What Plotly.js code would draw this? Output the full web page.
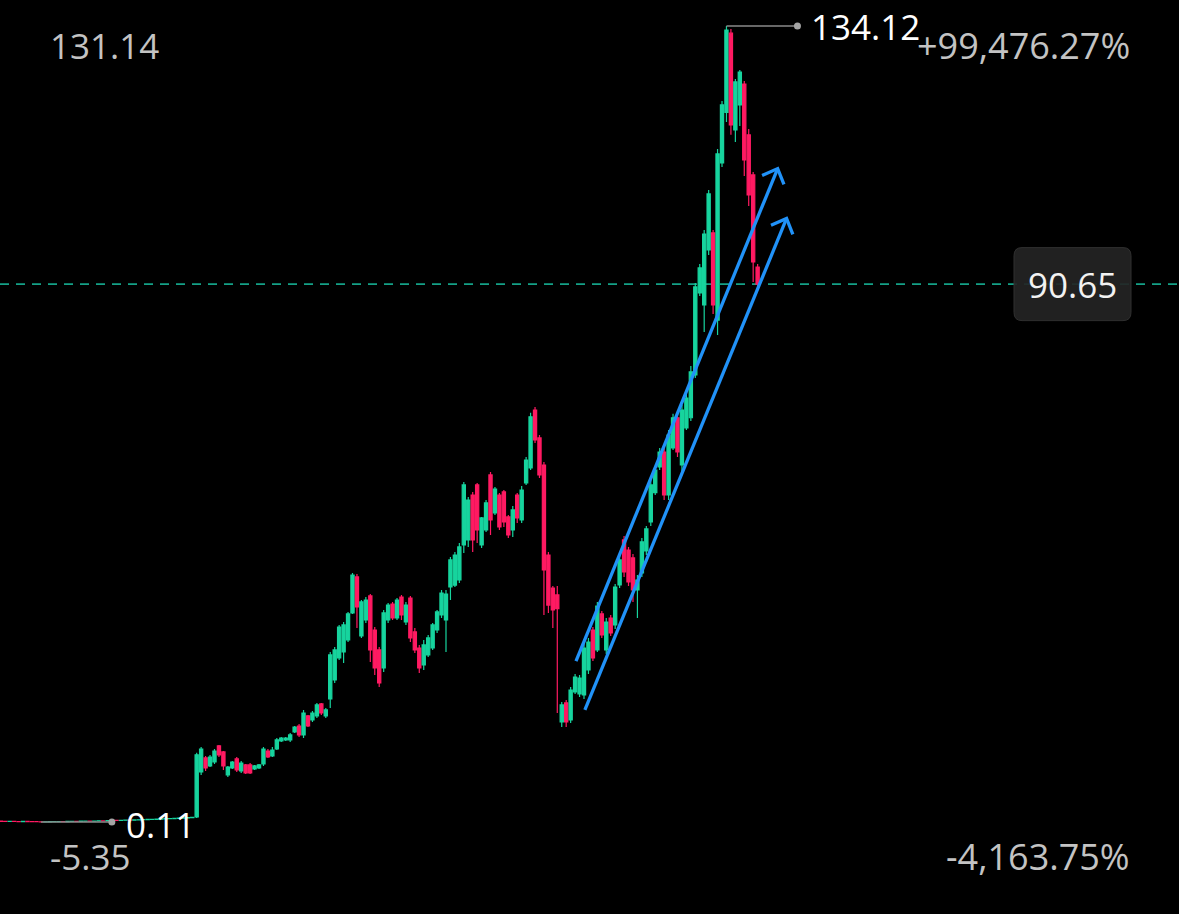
<!DOCTYPE html>
<html><head><meta charset="utf-8">
<script src="https://cdn.plot.ly/plotly-3.0.1.min.js"></script>
<style>html,body{margin:0;padding:0;background:#000;overflow:hidden}#chart{width:1179px;height:914px}</style>
</head><body><div id="chart"></div>
<script>
// ---- data ----
const opens = [0.24,0.22,0.20,0.21,0.18,0.17,0.19,0.16,0.15,0.14,0.12,0.13,0.15,0.16,0.18,0.17,0.19,0.21,0.20,0.23,0.25,0.24,0.27,0.30,0.29,0.33,0.36,0.35,0.39,0.42,0.40,0.45,0.48,0.50,0.53,0.55,0.58,0.62,0.65,0.68,0.72,0.75,0.80,0.84,
 0.94,8.52,10.88,9.53,10.20,12.90,11.89,8.01,9.19,10.71,8.69,9.70,9.70,9.02,9.19,9.87,12.05,11.21,12.39,13.74,13.91,13.91,15.25,16.26,14.75,17.95,17.27,17.95,19.97,17.95,
 20.81,24.01,27.71,28.72,30.74,35.29,41.35,31.41,34.11,38.15,32.42,29.07,26.03,34.11,36.80,34.44,37.98,33.77,37.81,32.09,29.39,26.53,28.22,29.39,32.42,34.95,34.11,
 39.66,39.98,40.84,46.73,47.58,55.15,56.84,46.73,49.26,58.52,52.12,55.15,55.66,51.45,49.26,55.15,50.94,57.17,59.70,69.46,64.75,60.20,45.05,39.49,38.32,
 16.94,20.14,17.27,21.99,21.65,21.48,25.69,32.42,29.07,35.12,29.07,34.44,33.27,40.00,47.58,45.89,44.55,39.16,42.02,45.72,50.61,55.56,59.87,62.39,55.15,63.06,68.15,60.20,66.43,68.15,
 75.35,89.16,87.14,96.40,99.26,84.60,111.04,119.56,132.90,116.60,120.81,124.34,115.76,109.03,93.53];
const highs = [0.26,0.24,0.23,0.23,0.20,0.21,0.21,0.18,0.17,0.16,0.15,0.17,0.18,0.20,0.20,0.21,0.23,0.23,0.25,0.27,0.27,0.29,0.32,0.32,0.35,0.38,0.38,0.41,0.44,0.44,0.47,0.50,0.52,0.55,0.57,0.60,0.64,0.67,0.70,0.74,0.77,0.82,0.86,0.92,
 11.75,12.73,11.21,11.38,12.39,13.06,12.05,9.53,10.37,11.04,10.37,9.87,10.03,9.70,9.87,12.73,12.39,12.73,14.24,14.41,14.41,15.08,16.26,16.60,18.96,18.11,18.79,20.14,20.14,19.29,
 28.72,29.56,33.27,33.77,35.46,42.02,41.85,37.47,37.98,38.48,32.93,29.56,35.79,36.97,37.14,37.81,38.32,37.14,38.15,32.76,29.90,30.74,31.58,33.60,35.79,39.16,39.16,
 44.71,45.56,47.07,57.34,54.81,55.65,57.17,51.45,54.31,59.02,56.50,55.49,55.99,51.78,53.30,55.49,56.67,61.55,68.99,69.97,65.25,60.71,45.56,39.83,39.83,
 20.30,20.64,22.83,25.02,24.85,30.40,31.08,32.93,37.14,35.62,34.44,34.95,40.17,44.88,48.25,46.40,45.22,41.68,47.91,49.93,57.68,60.03,63.06,63.06,66.09,68.83,68.83,70.30,72.32,76.87,
 90.84,94.04,99.76,106.50,99.76,113.40,121.48,134.12,133.60,125.19,126.70,124.85,116.77,109.53,94.04];
const lows = [0.21,0.19,0.19,0.17,0.16,0.16,0.15,0.14,0.13,0.11,0.11,0.12,0.14,0.15,0.16,0.16,0.18,0.19,0.19,0.22,0.23,0.23,0.26,0.28,0.28,0.32,0.34,0.34,0.38,0.39,0.39,0.44,0.47,0.49,0.52,0.54,0.57,0.61,0.64,0.67,0.71,0.74,0.79,0.83,
 0.77,8.01,8.69,9.36,9.87,11.04,8.86,7.68,9.02,8.52,8.35,8.18,8.18,8.86,9.02,9.53,10.88,11.04,12.22,13.57,13.74,13.57,15.08,14.41,14.24,16.09,16.94,17.61,18.11,17.61,
 19.29,23.50,27.37,26.87,30.40,35.12,32.76,31.08,33.60,27.04,24.85,22.83,25.35,33.60,34.11,34.11,34.11,33.27,30.40,28.55,25.19,25.69,27.88,29.07,31.92,34.44,28.72,
 37.47,39.66,40.34,45.39,46.40,45.56,47.07,46.23,48.92,48.42,51.78,49.26,49.76,47.91,48.08,50.44,50.44,56.84,59.36,63.91,58.01,34.95,35.29,32.76,18.45,
 16.09,16.09,16.77,21.65,21.14,20.81,25.02,27.21,28.72,31.08,28.38,31.41,32.59,39.49,41.35,39.83,37.14,34.44,41.35,45.05,49.93,55.15,59.36,54.31,54.31,62.73,61.55,58.52,66.09,67.61,
 74.85,88.66,82.58,95.56,85.62,82.09,110.37,117.95,115.80,114.58,117.27,108.86,103.81,91.01,89.66];
const closes = [0.22,0.20,0.21,0.18,0.17,0.19,0.16,0.15,0.14,0.12,0.13,0.15,0.16,0.18,0.17,0.19,0.21,0.20,0.23,0.25,0.24,0.27,0.30,0.29,0.33,0.36,0.35,0.39,0.42,0.40,0.45,0.48,0.50,0.53,0.55,0.58,0.62,0.65,0.68,0.72,0.75,0.80,0.84,0.90,
 11.40,12.39,9.19,11.04,12.05,11.38,9.53,9.36,10.20,8.86,10.03,8.35,8.35,9.53,9.70,12.39,11.04,12.22,13.91,14.24,14.24,14.75,16.09,14.75,18.45,16.26,18.45,19.80,18.45,18.96,
 28.22,29.07,32.93,33.27,35.12,41.68,36.30,37.14,37.47,29.07,26.03,23.50,35.29,36.63,34.44,37.47,34.95,36.63,31.08,29.07,26.03,29.90,31.08,33.27,35.46,38.65,38.48,
 44.21,45.05,46.40,56.84,54.31,47.58,49.26,51.28,53.81,50.94,56.16,49.76,50.61,48.42,52.63,51.28,55.99,61.04,68.32,64.41,58.52,42.52,36.62,35.79,36.00,
 19.80,16.94,22.32,24.51,24.34,29.39,30.40,27.71,36.46,31.58,33.77,31.92,39.66,44.21,42.19,40.51,39.16,40.84,47.24,49.43,56.84,59.36,62.39,55.15,65.25,68.15,62.39,69.46,71.48,75.86,
 90.17,93.37,99.09,105.83,87.14,112.56,120.81,133.40,117.44,124.68,126.36,111.55,105.66,94.38,90.65];

const scaleLevels = [131.14, -5.35];
const scaleLabels = ['131.14', '-5.35'];
const changeLabels = ['+99,476.27%', '-4,163.75%'];
const lastPriceLabel = '90.65';
// drawn channel: [candle index, price] of start and end of each arrow
const channelStarts = [[129.2, 27.2], [131.2, 18.96]];
const channelEnds = [[174.5, 110.1], [176.5, 101.7]];

// ---- layout constants ----
const W = 1179, H = 914;
const xRange = [-0.18, 264.65];
const yRange = [-15.39, 138.48];
const kx = W / (xRange[1] - xRange[0]);
const ky = H / (yRange[1] - yRange[0]);
const GREEN = '#17d49e', RED = '#ff1a62', BLUE = '#2192f8';
const FONT = 'Open Sans, Noto Sans, sans-serif';

const idx = opens.map((_, i) => i);
let hiIdx = 0, loIdx = 0;
for (let i = 1; i < highs.length; i++) { if (highs[i] > highs[hiIdx]) hiIdx = i; if (lows[i] < lows[loIdx]) loIdx = i; }
const hiVal = highs[hiIdx], loVal = lows[loIdx];
const lastPrice = closes[closes.length - 1];

const traces = [{
  type: 'candlestick', x: idx, open: opens, high: highs, low: lows, close: closes,
  increasing: {line: {color: GREEN, width: 1.2}, fillcolor: GREEN},
  decreasing: {line: {color: RED, width: 1.2}, fillcolor: RED},
  whiskerwidth: 0, hoverinfo: 'skip', showlegend: false
}];

// channel arrows
function head(s, e) {
  const dxp = (s[0] - e[0]) * kx, dyp = -(s[1] - e[1]) * ky;
  const len = Math.hypot(dxp, dyp), ux = dxp / len, uy = dyp / len;
  const L = 17, a = 44 * Math.PI / 180;
  const pts = [];
  for (const sg of [1, -1]) {
    const rx = Math.cos(a) * ux - sg * Math.sin(a) * uy;
    const ry = sg * Math.sin(a) * ux + Math.cos(a) * uy;
    pts.push([e[0] + L * rx / kx, e[1] - L * ry / ky]);
  }
  return pts;
}
for (let k = 0; k < channelStarts.length; k++) {
  const s = channelStarts[k], e = channelEnds[k];
  traces.push({type: 'scatter', mode: 'lines', x: [s[0], e[0]], y: [s[1], e[1]],
    line: {color: BLUE, width: 3.3}, hoverinfo: 'skip', showlegend: false});
  const h = head(s, e);
  traces.push({type: 'scatter', mode: 'lines', x: [h[0][0], e[0], h[1][0]], y: [h[0][1], e[1], h[1][1]],
    line: {color: BLUE, width: 3.3}, hoverinfo: 'skip', showlegend: false});
}

// price box (rounded)
const bx0 = 1014 / W, bx1 = 1131 / W, bh = 36.5 / ky, rx = 8 / W, ry = 8 / ky;
const by0 = lastPrice - bh, by1 = lastPrice + bh;
const boxPath = `M${bx0 + rx},${by1} L${bx1 - rx},${by1} Q${bx1},${by1} ${bx1},${by1 - ry} L${bx1},${by0 + ry} Q${bx1},${by0} ${bx1 - rx},${by0} L${bx0 + rx},${by0} Q${bx0},${by0} ${bx0},${by0 + ry} L${bx0},${by1 - ry} Q${bx0},${by1} ${bx0 + rx},${by1} Z`;

const shapes = [
  {type: 'line', xref: 'paper', x0: 0, x1: 1, yref: 'y', y0: lastPrice, y1: lastPrice, layer: 'below',
    line: {color: '#14a187', width: 1.6, dash: '9px,7px'}},
  {type: 'path', xref: 'paper', yref: 'y', path: boxPath, fillcolor: 'rgba(36,36,36,0.92)', line: {color: '#303030', width: 1}},
];
for (const [ix, v] of [[hiIdx, hiVal], [loIdx, loVal]]) {
  shapes.push({type: 'line', xref: 'x', yref: 'y', xsizemode: 'pixel', xanchor: ix, x0: 0, x1: 71, y0: v, y1: v,
    line: {color: '#8a8a8a', width: 1.5}});
  shapes.push({type: 'circle', xref: 'x', yref: 'y', xsizemode: 'pixel', ysizemode: 'pixel', xanchor: ix, yanchor: v,
    x0: 67.5, x1: 74.5, y0: -3.5, y1: 3.5, fillcolor: '#a4a4a4', line: {width: 0}});
}

const annotations = [];
for (let k = 0; k < scaleLevels.length; k++) {
  annotations.push({xref: 'paper', x: 48 / W, xanchor: 'left', yref: 'y', y: scaleLevels[k], yanchor: 'middle', yshift: -2,
    text: scaleLabels[k], showarrow: false, font: {family: FONT, size: 35, color: '#c3c3c3'}});
  annotations.push({xref: 'paper', x: 1132 / W, xanchor: 'right', yref: 'y', y: scaleLevels[k], yanchor: 'middle', yshift: -2,
    text: changeLabels[k], showarrow: false, font: {family: FONT, size: 36, color: '#c3c3c3'}});
}
annotations.push({xref: 'x', x: hiIdx, xshift: 83, xanchor: 'left', yref: 'y', y: hiVal, yanchor: 'middle', yshift: -1,
  text: hiVal.toFixed(2), showarrow: false, font: {family: FONT, size: 35, color: '#ffffff'}});
annotations.push({xref: 'x', x: loIdx, xshift: 83, xanchor: 'left', yref: 'y', y: loVal, yanchor: 'middle', yshift: -3,
  text: loVal.toFixed(2), showarrow: false, font: {family: FONT, size: 35, color: '#ffffff'}});
annotations.push({xref: 'paper', x: 1072.5 / W, xanchor: 'center', yref: 'y', y: lastPrice, yanchor: 'middle',
  text: lastPriceLabel, showarrow: false, font: {family: FONT, size: 35, color: '#f2f2f2'}});

const layout = {
  width: W, height: H, margin: {l: 0, r: 0, t: 0, b: 0, pad: 0},
  paper_bgcolor: '#000', plot_bgcolor: '#000', showlegend: false,
  boxgap: 0.15, boxgroupgap: 0.15,
  xaxis: {range: xRange, visible: false, fixedrange: true, rangeslider: {visible: false}},
  yaxis: {range: yRange, visible: false, fixedrange: true},
  shapes: shapes, annotations: annotations
};
Plotly.newPlot('chart', traces, layout, {staticPlot: true, displayModeBar: false});
</script>
</body></html>
